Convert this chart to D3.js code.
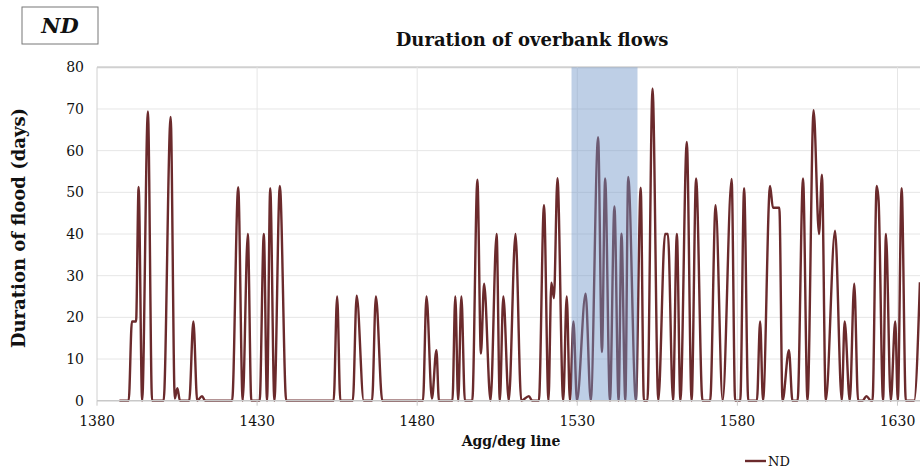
<!DOCTYPE html>
<html>
<head>
<meta charset="utf-8">
<script src="https://cdn.jsdelivr.net/npm/d3@7/dist/d3.min.js"></script>
<style>
  html, body { margin: 0; padding: 0; background: #fff; }
  svg { display: block; }
  text { font-family: "DejaVu Serif", "Liberation Serif", serif; fill: #111; }
</style>
</head>
<body>
<svg id="chart" width="920" height="470"></svg>
<script>
// Position along the aggradation/degradation line
const chainage = [
  1387, 1389.9, 1390.9, 1392.2, 1393.0, 1394.1, 1395.9, 1397.2, 1400.8, 1403.0,
  1404.3, 1405.1, 1405.9, 1408.8, 1410.1, 1411.3, 1412.8, 1413.8, 1422.2, 1424.1,
  1425.5, 1427.1, 1428.2, 1430.8, 1432.1, 1433.1, 1434.1, 1435.4, 1437.1, 1439.1,
  1453.9, 1455.0, 1456.0, 1459.9, 1461.1, 1463.3, 1465.9, 1467.1, 1469.1, 1481.8,
  1482.9, 1484.6, 1486.0, 1486.8, 1491.0, 1491.9, 1492.8, 1493.8, 1494.9, 1497.2,
  1498.8, 1499.9, 1500.9, 1502.9, 1504.8, 1505.8, 1506.9, 1508.6, 1510.7, 1512.5,
  1514.9, 1515.9, 1518.0, 1519.6, 1521.0, 1521.9, 1522.7, 1523.8, 1525.6, 1526.7,
  1527.7, 1528.8, 1529.9, 1532.6, 1534.2, 1536.5, 1537.7, 1538.7, 1540.2, 1541.6,
  1542.9, 1543.8, 1545.0, 1545.9, 1548.3, 1549.8, 1550.8, 1551.9, 1553.5, 1555.3,
  1557.4, 1558.3, 1559.9, 1561.1, 1562.2, 1564.2, 1565.7, 1567.1, 1569.1, 1571.5,
  1573.2, 1575.4, 1578.2, 1579.3, 1580.9, 1582.1, 1583.4, 1586.1, 1587.1, 1588.0,
  1590.2, 1591.1, 1593.1, 1594.1, 1596.1, 1597.2, 1598.8, 1600.5, 1601.9, 1603.8,
  1605.5, 1606.4, 1607.6, 1610.5, 1612.6, 1613.5, 1615.1, 1616.5, 1617.7, 1619.1,
  1620.3, 1621.7, 1622.2, 1623.5, 1624.1, 1625.5, 1626.4, 1627.9, 1629.3, 1630.1,
  1631.3, 1632.6, 1635.2, 1637.0
];

// Duration of flood (days) at each position
const floodDays = [
  0, 0, 19, 19, 51.3, 0, 69.4, 0, 0, 68.1,
  0.5, 3, 0, 0, 19, 0, 1.1, 0, 0, 51.2,
  0, 40, 0, 0, 40, 0, 51, 0, 51.5, 0,
  0, 25, 0, 0, 25.2, 0, 0, 25, 0, 0,
  25, 0.5, 12.1, 0, 0, 25, 0, 25, 0, 0,
  53, 11.3, 28.1, 0, 40, 0, 25, 0, 40, 0,
  1.1, 0, 0, 46.9, 0, 28.3, 24.6, 53.4, 0, 25,
  0, 19, 0, 25.7, 0, 63.2, 11.7, 53.3, 0, 46.6,
  0, 40.1, 0, 53.7, 0, 51.1, 0, 0, 74.9, 0,
  40, 40, 0, 40, 0, 62.1, 0, 53.3, 0, 0,
  46.9, 0, 53.2, 0, 0, 51, 0, 0, 19, 0,
  51.5, 46.3, 46.3, 0, 12.1, 0, 0, 53.3, 0, 69.7,
  40, 54.2, 0, 40.8, 0, 19, 0, 28.1, 0, 0,
  1.1, 0, 0, 51.5, 48, 0, 40, 0, 19, 0,
  51, 0, 0, 28.4
];

const seriesName = "ND";
const highlightSpan = [1528.2, 1548.8];
const xTicks = [1380, 1430, 1480, 1530, 1580, 1630];
const yTicks = [0, 10, 20, 30, 40, 50, 60, 70, 80];

const svg = d3.select("#chart");
const lineColor = "#6b2a2c";

const x = d3.scaleLinear().domain([1380, 1640]).range([97, 929.5]);
const y = d3.scaleLinear().domain([0, 80]).range([400.7, 67.3]);

const plot = svg.append("g");

// horizontal gridlines
plot.selectAll("line.hgrid").data(yTicks.filter(d => d > 0)).join("line")
  .attr("class", "hgrid")
  .attr("x1", x(1380)).attr("x2", 920)
  .attr("y1", d => y(d)).attr("y2", d => y(d))
  .attr("stroke", d => d === 80 ? "#d0d0d0" : "#e6e6e6")
  .attr("stroke-width", d => d === 80 ? 2 : 1);

// vertical gridlines
plot.selectAll("line.vgrid").data(xTicks.slice(1)).join("line")
  .attr("class", "vgrid")
  .attr("x1", d => x(d)).attr("x2", d => x(d))
  .attr("y1", y(80)).attr("y2", y(0))
  .attr("stroke", "#e6e6e6").attr("stroke-width", 1);

// left axis line
plot.append("line")
  .attr("x1", x(1380)).attr("x2", x(1380))
  .attr("y1", y(80)).attr("y2", y(0))
  .attr("stroke", "#d0d0d0").attr("stroke-width", 1);

// data line
const pts = chainage.map((c, i) => [c, floodDays[i]]);
const line = d3.line()
  .x(d => x(d[0]))
  .y(d => y(d[1]))
  .curve(d3.curveMonotoneX);

plot.append("path")
  .datum(pts)
  .attr("d", line)
  .attr("fill", "none")
  .attr("stroke", lineColor)
  .attr("stroke-width", 2.4)
  .attr("stroke-linejoin", "round");

// shaded reach, laid over the line
plot.append("rect")
  .attr("x", x(highlightSpan[0]))
  .attr("y", y(80))
  .attr("width", x(highlightSpan[1]) - x(highlightSpan[0]))
  .attr("height", y(0) - y(80))
  .attr("fill", "#6f94c7")
  .attr("opacity", 0.45);

// x axis baseline and ticks
plot.append("line")
  .attr("x1", x(1380)).attr("x2", 920)
  .attr("y1", y(0)).attr("y2", y(0))
  .attr("stroke", "#c8c8c8").attr("stroke-width", 1.5);

plot.selectAll("line.xtick").data(xTicks).join("line")
  .attr("class", "xtick")
  .attr("x1", d => x(d)).attr("x2", d => x(d))
  .attr("y1", y(0)).attr("y2", y(0) + 5)
  .attr("stroke", "#c8c8c8");

plot.selectAll("text.xlab").data(xTicks).join("text")
  .attr("class", "xlab")
  .attr("x", d => x(d)).attr("y", 426)
  .attr("text-anchor", "middle")
  .attr("font-size", 14)
  .text(d => d);

plot.selectAll("text.ylab").data(yTicks).join("text")
  .attr("class", "ylab")
  .attr("x", 84).attr("y", d => y(d) + 5)
  .attr("text-anchor", "end")
  .attr("font-size", 14)
  .text(d => d);

// titles
svg.append("text")
  .attr("x", 532).attr("y", 46)
  .attr("text-anchor", "middle")
  .attr("font-size", 18).attr("font-weight", "bold")
  .text("Duration of overbank flows");

svg.append("text")
  .attr("x", 511).attr("y", 446)
  .attr("text-anchor", "middle")
  .attr("font-size", 14).attr("font-weight", "bold")
  .text("Agg/deg line");

svg.append("text")
  .attr("transform", "translate(25,228) rotate(-90)")
  .attr("text-anchor", "middle")
  .attr("font-size", 18).attr("font-weight", "bold")
  .text("Duration of flood (days)");

// label box
svg.append("rect")
  .attr("x", 22).attr("y", 7).attr("width", 76).attr("height", 37)
  .attr("fill", "#fff").attr("stroke", "#777").attr("stroke-width", 1);
svg.append("text")
  .attr("x", 60).attr("y", 33)
  .attr("text-anchor", "middle")
  .attr("font-size", 21).attr("font-weight", "bold").attr("font-style", "italic")
  .text(seriesName);

// legend
const legend = svg.append("g").attr("transform", "translate(745,461)");
legend.append("line").attr("x1", 0).attr("x2", 21).attr("y1", 0).attr("y2", 0)
  .attr("stroke", lineColor).attr("stroke-width", 2.4);
legend.append("text").attr("x", 23).attr("y", 5).attr("font-size", 13).text(seriesName);
</script>
</body>
</html>
